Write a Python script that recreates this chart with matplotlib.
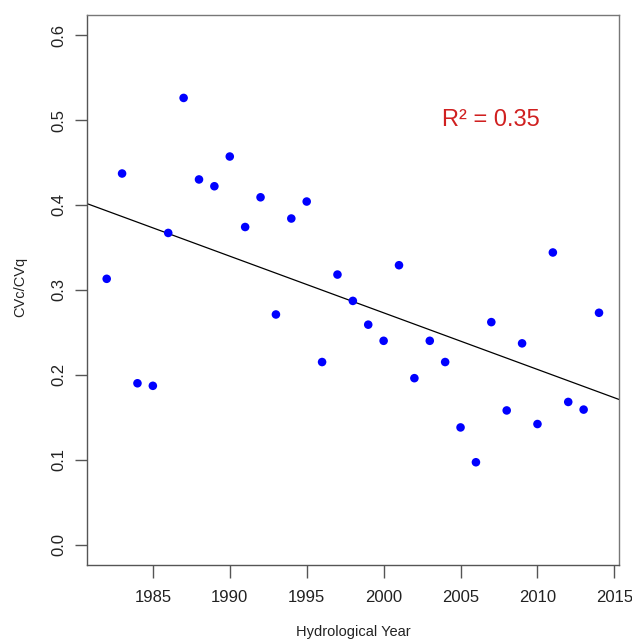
import numpy as np
import matplotlib
matplotlib.use("Agg")
import matplotlib.pyplot as plt

plt.rcParams['font.family'] = ['Liberation Sans', 'DejaVu Sans']

years = np.arange(1982, 2015)
cv_ratio = [0.313, 0.437, 0.190, 0.187, 0.367, 0.526, 0.430, 0.422, 0.457, 0.374,
            0.409, 0.271, 0.384, 0.404, 0.215, 0.318, 0.287, 0.259, 0.240, 0.329,
            0.196, 0.240, 0.215, 0.138, 0.097, 0.262, 0.158, 0.237, 0.142, 0.344,
            0.168, 0.159, 0.273]
r2_label = "R² = 0.35"

fig = plt.figure(figsize=(6.32, 6.39), dpi=100)
W, H = 632, 639
ax = fig.add_axes([87 / W, 1 - 565 / H, (618.7 - 87) / W, (565 - 14.7) / H])

ax.scatter(years, cv_ratio, s=38, color='#0000FF', edgecolors='none', zorder=3)

# linear fit, drawn across the whole plotting region
slope, intercept = np.polyfit(years, cv_ratio, 1)
xl = np.array([1980.72, 2015.28])
ax.plot(xl, intercept + slope * xl, color='black', lw=0.9, zorder=2)

ax.set_xlim(1980.72, 2015.28)
ax.set_ylim(-0.024, 0.624)
ax.set_xticks(np.arange(1985, 2016, 5))
ax.set_yticks(np.arange(0, 0.61, 0.1))
ax.set_yticklabels([f"{v:.1f}" for v in np.arange(0, 0.61, 0.1)], rotation=90, va='center')

for s in ax.spines.values():
    s.set_color('#555555')
    s.set_linewidth(1.0)
ax.spines['top'].set_color('#777777')
ax.spines['right'].set_color('#777777')
ax.tick_params(axis='both', length=9, width=1.0, color='#555555', labelsize=12,
               labelcolor='#222222')
ax.tick_params(axis='x', pad=9)
ax.tick_params(axis='y', pad=6)

ax.text(491 / W, 1 - 120 / H, r2_label, transform=fig.transFigure, fontsize=17,
        color='#D02020', ha='center', va='center')

fig.text(353 / W, 1 - 632 / H, "Hydrological Year", fontsize=10.5, ha='center', va='center',
         color='#222222')
fig.text(20 / W, 1 - 287 / H, "CVc/CVq", fontsize=10.5, ha='center', va='center',
         rotation=90, color='#222222')

fig.savefig("out.png", dpi=100)
